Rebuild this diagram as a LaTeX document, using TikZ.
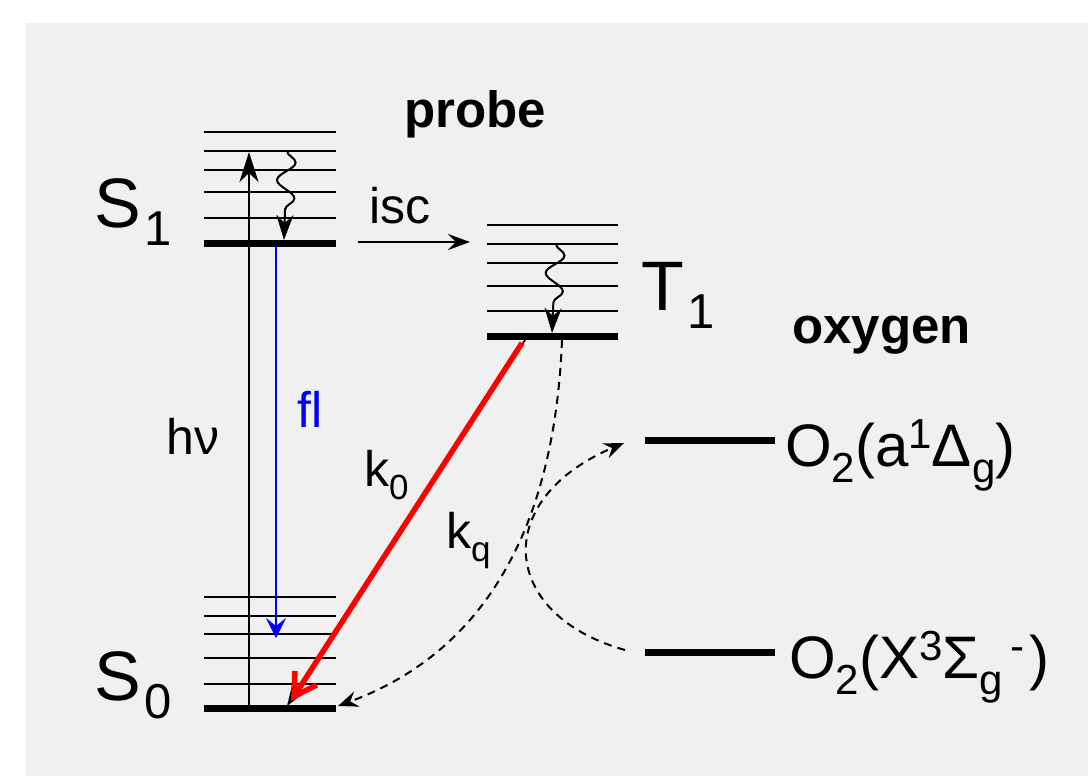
\documentclass[tikz,border=0pt]{standalone}
\usepackage{fontspec}
\setmainfont{Liberation Sans}
\usepackage{graphicx}
\usetikzlibrary{arrows.meta,decorations.pathmorphing}

\newcommand{\lowr}[1]{\raisebox{-.27em}{\scalebox{.7}{#1}}}
\newcommand{\highr}[1]{\raisebox{.3em}{\scalebox{.7}{#1}}}

\tikzset{
  lvl/.style={line width=2.2pt},
  lvlbold/.style={line width=7pt},
  lbl/.style={inner sep=0pt, anchor=base west, font=\fontsize{50}{54}\selectfont},
  statelbl/.style={lbl, font=\fontsize{70}{74}\selectfont},
  hdr/.style={lbl, font=\bfseries\fontsize{51}{55}\selectfont},
  oxlbl/.style={lbl, font=\fontsize{60}{64}\selectfont},
  wavy/.style={line width=2pt, decorate,
    decoration={snake, amplitude=9pt, segment length=36pt, post length=24pt}},
  dsh/.style={line width=2pt, dash pattern=on 8pt off 6pt}
}

\begin{document}
\begin{tikzpicture}[x=1pt,y=-1pt]
  \useasboundingbox (0,0) rectangle (1088,776);
  \fill[black!6] (26,23) rectangle (1088,776);

  % vibrational levels of the probe
  \foreach \y in {132,151,170,192,218} \draw[lvl] (204,\y) -- (336,\y);
  \draw[lvlbold] (204,243) -- (336,243);
  \foreach \y in {597,616,634,658,684} \draw[lvl] (204,\y) -- (336,\y);
  \draw[lvlbold] (204,708) -- (336,708);
  \foreach \y in {225,244,263,286,311} \draw[lvl] (487,\y) -- (618,\y);
  \draw[lvlbold] (487,336) -- (618,336);

  % oxygen levels
  \draw[lvlbold] (645,440) -- (775,440);
  \draw[lvlbold] (645,652) -- (775,652);

  % labels
  \node[statelbl] (sone) at (94,227) {S\kern.05em\lowr{1}};
  \node[statelbl] (szero) at (94,700) {S\kern.05em\lowr{0}};
  \node[statelbl] (tone) at (641,310) {T\kern.05em\lowr{1}};
  \node[hdr] (probe) at (404,128) {probe};
  \node[hdr] (oxygen) at (792,343) {oxygen};
  \node[lbl] (isc) at (369,223) {isc};
  \node[lbl] (hnu) at (166,454) {hν};
  \node[lbl, text=blue] (fl) at (297,427) {fl};
  \node[lbl] (kzero) at (364,486) {k\lowr{0}};
  \node[lbl] (kq) at (446,548) {k\lowr{q}};
  \node[oxlbl] (odelta) at (785,466) {O\lowr{2}(a\highr{1}Δ\lowr{g})};
  \node[oxlbl] (osigma) at (789,678) {O\lowr{2}(X\highr{3}Σ\lowr{g}\kern.12em\highr{-}\kern.08em)};

  % transitions
  \coordinate (hvA) at (249,708);
  \coordinate (hvB) at (249,152);
  \coordinate (flA) at (276,246);
  \coordinate (flB) at (276,638);
  \coordinate (iscA) at (358,242);
  \coordinate (iscB) at (470,242);
  \coordinate (vrA) at (287,151);
  \coordinate (vrB) at (284,240);
  \coordinate (vtA) at (556,244);
  \coordinate (vtB) at (552,333);
  \coordinate (kA) at (527,337);
  \coordinate (kB) at (287,706);
  \coordinate (rA) at (522,343);
  \coordinate (rB) at (291,701);
  \coordinate (qA) at (562,340);
  \coordinate (qB) at (338,706);
  \coordinate (eA) at (625,650);
  \coordinate (eB) at (624,443);

  \draw[line width=2pt, -{Stealth[length=30pt,width=19pt,inset=9pt]}] (hvA) -- (hvB);
  \draw[blue, line width=1.3pt, -{Stealth[length=20pt,width=20pt,inset=8pt]}] (flA) -- (flB);
  \draw[line width=2pt, -{Stealth[length=22pt,width=16pt,inset=8pt]}] (iscA) -- (iscB);
  \draw[wavy, -{Stealth[length=25pt,width=17pt,inset=8pt]}] (vrA) -- (vrB);
  \draw[wavy, -{Stealth[length=25pt,width=17pt,inset=8pt]}] (vtA) -- (vtB);
  \draw[line width=1.5pt, -{Stealth[length=20pt,width=14pt,inset=6pt]}] (kA) -- (kB);
  \draw[red, line width=5.5pt, -{Straight Barb[length=22pt,width=26pt]}] (rA) -- (rB);
  \draw[dsh, -{Stealth[length=20pt,width=16pt,inset=7pt]}]
    (qA) .. controls (555,520) and (490,650) .. (qB);
  \draw[dsh, -{Stealth[length=20pt,width=16pt,inset=7pt]}]
    (eA) .. controls (500,615) and (490,500) .. (eB);
\end{tikzpicture}
\end{document}
